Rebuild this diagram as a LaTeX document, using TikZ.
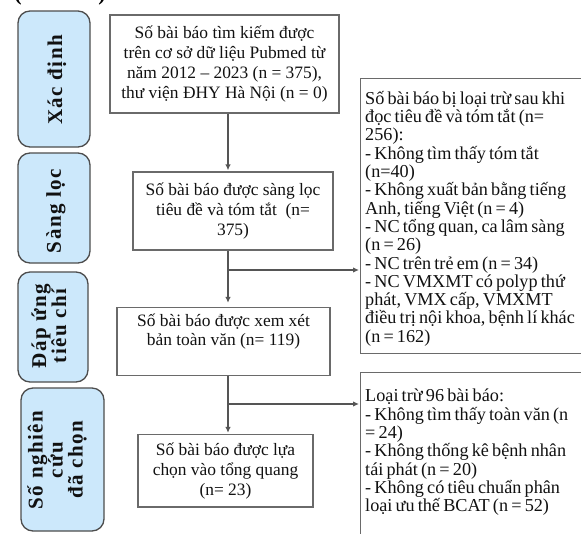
\documentclass[tikz,border=0pt]{standalone}
\usepackage{fontspec}
\setmainfont{Liberation Serif}
\newfontfamily\lblfont[LetterSpace=7]{Liberation Serif}
\newfontfamily\exfont[WordSpace=0.7]{Liberation Serif}
\usetikzlibrary{arrows.meta}
\definecolor{lblfill}{HTML}{CCE8FB}
\definecolor{lbldraw}{HTML}{4D4D4D}
\definecolor{boxdraw}{HTML}{6A6A6A}
\definecolor{arrcol}{HTML}{555555}
\definecolor{txt}{HTML}{111111}
\begin{document}
\begin{tikzpicture}[x=1pt,y=-1pt,
  mainbox/.style={draw=boxdraw, line width=1.2pt, align=center, inner sep=0pt, text=txt, font=\fontsize{17.4}{19.8}\selectfont},
  exbox/.style={draw=boxdraw, line width=1.2pt, inner sep=0pt, anchor=north west},
  extext/.style={align=left, inner sep=0pt, anchor=north west, text=txt, font=\exfont\fontsize{18.2}{18.3}\selectfont},
  lblbox/.style={draw=lbldraw, fill=lblfill, line width=1.3pt, rounded corners=12pt, inner sep=0pt},
  lbltext/.style={rotate=90, align=center, inner sep=0pt, text=txt, font=\lblfont\bfseries\fontsize{21}{20}\selectfont},
  paren/.style={anchor=south, inner sep=0pt, font=\bfseries\fontsize{22}{22}\selectfont},
  conn/.style={draw=arrcol, line width=1.3pt},
  arr/.style={conn, -{Latex[length=6pt,width=5.5pt]}, shorten >=1pt}
]
\clip (0,0) rectangle (581,533);
% cut-off text at the top
\node[paren] (pl) at (18,5) {(};
\node[paren] (pr) at (102,5) {)};
% stage labels
\node[lblbox, minimum width=72pt, minimum height=136pt] (l1) at (54,79) {};
\node[lbltext] (l1t) at (57,80) {Xác định};
\node[lblbox, minimum width=72pt, minimum height=110pt] (l2) at (54,208) {};
\node[lbltext] (l2t) at (56,211) {Sàng lọc};
\node[lblbox, minimum width=70pt, minimum height=110pt] (l3) at (53,327) {};
\node[lbltext] (l3t) at (49,326) {Đáp ứng\\tiêu chí};
\node[lblbox, minimum width=83pt, minimum height=143pt] (l4) at (62.5,459.5) {};
\node[lbltext] (l4t) at (57,460) {Số nghiên\\cứu\\đã chọn};
% main boxes
\node[mainbox, minimum width=229pt, minimum height=98pt] (b1) at (224.5,64) {Số bài báo tìm kiếm được\\trên cơ sở dữ liệu Pubmed từ\\năm 2012 – 2023 (n = 375),\\thư viện ĐHY Hà Nội (n = 0)};
\node[mainbox, minimum width=200pt, minimum height=78pt] (b2) at (233,211) {Số bài báo được sàng lọc\\tiêu đề và tóm tắt~ (n=\\375)};
\node[mainbox, minimum width=213pt, minimum height=68pt] (b3) at (223.5,341.5) {Số bài báo được xem xét\\bản toàn văn (n= 119)\\[4pt]};
\node[mainbox, minimum width=175pt, minimum height=72.5pt] (b4) at (225.5,470.75) {Số bài báo được lựa\\chọn vào tổng quang\\(n= 23)};
% exclusion boxes
\node[exbox, minimum width=240pt, minimum height=275pt] (ex1) at (360,78) {};
\node[extext] (ex1t) at (365,91) {Số bài báo bị loại trừ sau khi\\đọc tiêu đề và tóm tắt (n=\\256):\\- Không tìm thấy tóm tắt\\(n=40)\\- Không xuất bản bằng tiếng\\Anh, tiếng Việt (n = 4)\\- NC tổng quan, ca lâm sàng\\(n = 26)\\- NC trên trẻ em (n = 34)\\- NC VMXMT có polyp thứ\\phát, VMX cấp, VMXMT\\điều trị nội khoa, bệnh lí khác\\(n = 162)};
\node[exbox, minimum width=240pt, minimum height=190pt] (ex2) at (360,372) {};
\node[extext] (ex2t) at (365,389) {Loại trừ 96 bài báo:\\- Không tìm thấy toàn văn (n\\= 24)\\- Không thống kê bệnh nhân\\tái phát (n = 20)\\- Không có tiêu chuẩn phân\\loại ưu thế BCAT (n = 52)};
% connectors
\coordinate (j1) at (228,270);
\coordinate (j2) at (228,404);
\draw[arr] (b1.south -| j1) -- (b2.north -| j1);
\draw[conn] (b2.south -| j1) -- (j1);
\draw[arr, shorten >=4pt] (j1) -- (b3.north -| j1);
\draw[arr] (j1) -- (ex1.west |- j1);
\draw[conn] (b3.south -| j2) -- (j2);
\draw[arr] (j2) -- (b4.north -| j2);
\draw[arr] (j2) -- (ex2.west |- j2);
\end{tikzpicture}
\end{document}
